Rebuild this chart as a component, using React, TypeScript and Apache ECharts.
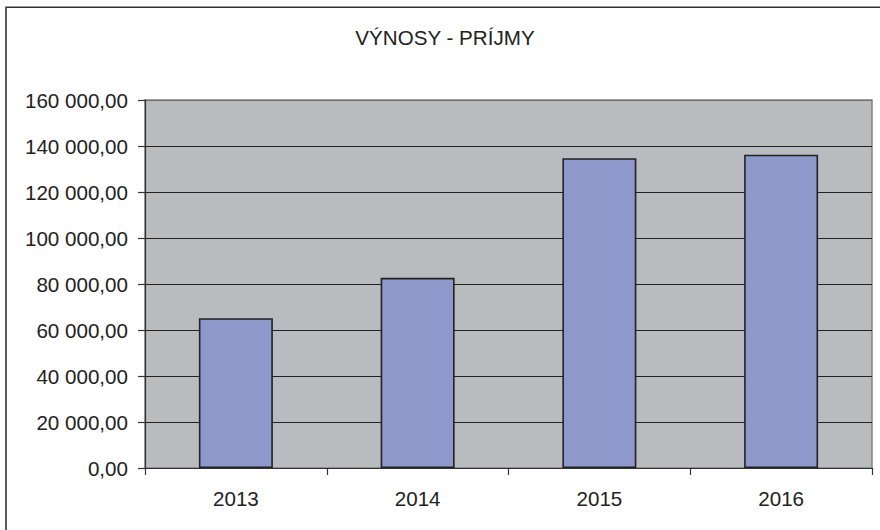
import React, { useEffect, useRef } from "react";
import * as echarts from "echarts";

const title = "VÝNOSY - PRÍJMY";
const categories = ["2013", "2014", "2015", "2016"];
const revenues = [65100, 82700, 134700, 136200];
const yMin = 0;
const yMax = 160000;
const yStep = 20000;

function formatValue(v: number): string {
  const intPart = Math.round(v).toString().replace(/\B(?=(\d{3})+(?!\d))/g, " ");
  return intPart + ",00";
}

export default function App() {
  const ref = useRef<HTMLDivElement>(null);
  useEffect(() => {
    if (!ref.current) return;
    const chart = echarts.init(ref.current, undefined, { renderer: "svg" });
    const font = "'Liberation Sans', Arial, sans-serif";
    const fs = 20.6;
    const splitColors: string[] = [];
    for (let v = yMin; v <= yMax; v += yStep) {
      splitColors.push(v === yMax ? "#707070" : "#222222");
    }
    chart.setOption({
      animation: false,
      backgroundColor: "#ffffff",
      graphic: [
        {
          type: "rect",
          shape: { x: 6, y: 7.3, width: 1000, height: 1000 },
          style: { fill: "none", stroke: "#333333", lineWidth: 1.6 },
          silent: true,
        },
        {
          type: "text",
          x: 445,
          y: 37,
          style: {
            text: title,
            fontFamily: font,
            fontSize: fs,
            fill: "#222222",
            textAlign: "center",
            textVerticalAlign: "middle",
          },
          silent: true,
        },
      ],
      grid: {
        left: 145,
        top: 100,
        right: 8,
        bottom: 62,
        show: true,
        backgroundColor: "#b9bcbe",
        borderColor: "#808080",
        borderWidth: 1.5,
      },
      xAxis: {
        type: "category",
        data: categories,
        boundaryGap: true,
        axisLine: { show: true, lineStyle: { color: "#333333", width: 1.2 } },
        axisTick: { show: true, length: 7, lineStyle: { color: "#333333", width: 1.2 } },
        axisLabel: { fontFamily: font, fontSize: fs, color: "#222222", margin: 20 },
        splitLine: { show: false },
      },
      yAxis: {
        type: "value",
        min: yMin,
        max: yMax,
        interval: yStep,
        axisLine: { show: true, lineStyle: { color: "#333333", width: 1.2 } },
        axisTick: { show: true, length: 7, lineStyle: { color: "#333333", width: 1.2 } },
        axisLabel: {
          fontFamily: font,
          fontSize: fs,
          color: "#222222",
          margin: 17,
          formatter: (v: number) => formatValue(v),
        },
        splitLine: { show: true, lineStyle: { color: splitColors, width: 1.2 } },
      },
      series: [
        {
          type: "bar",
          data: revenues,
          barWidth: 74,
          itemStyle: { color: "#8e98cb", borderColor: "#222222", borderWidth: 1.6 },
        },
      ],
    });
    return () => chart.dispose();
  }, []);
  return (
    <div
      ref={ref}
      style={{ position: "fixed", left: 0, top: 0, width: 880, height: 530 }}
    />
  );
}
